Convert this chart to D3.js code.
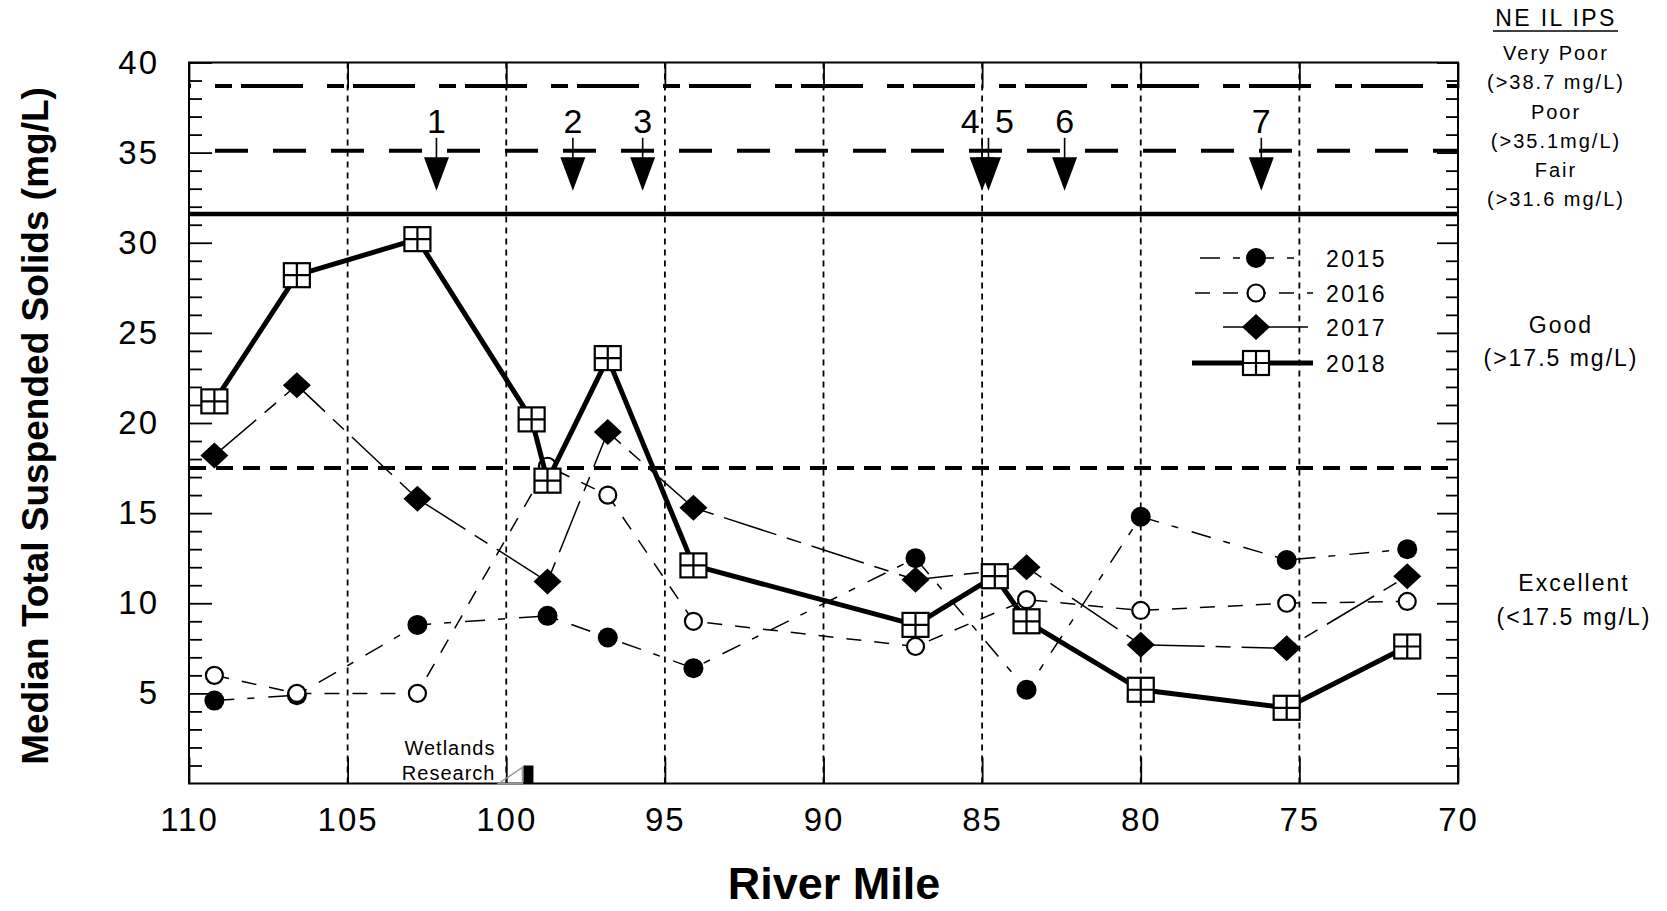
<!DOCTYPE html>
<html>
<head>
<meta charset="utf-8">
<script src="https://cdn.jsdelivr.net/npm/d3@7"></script>
<style>
  body { margin: 0; background: #fff; }
  text { font-family: "Liberation Sans", Arial, sans-serif; fill: #000; }
</style>
</head>
<body>
<div id="chart"></div>
<script>
// data
const years = ["2015", "2016", "2017", "2018"]
const miles2015 = [109.2, 106.6, 102.8, 98.7, 96.8, 94.1, 87.1, 83.6, 80.0, 75.4, 71.6]
const tss2015 = [4.6, 4.9, 8.8, 9.3, 8.1, 6.4, 12.5, 5.2, 14.8, 12.4, 13.0]
const miles2016 = [109.2, 106.6, 102.8, 98.7, 96.8, 94.1, 87.1, 83.6, 80.0, 75.4, 71.6]
const tss2016 = [6.0, 5.0, 5.0, 17.6, 16.0, 9.0, 7.6, 10.2, 9.6, 10.0, 10.1]
const miles2017 = [109.2, 106.6, 102.8, 98.7, 96.8, 94.1, 87.1, 83.6, 80.0, 75.4, 71.6]
const tss2017 = [18.2, 22.1, 15.8, 11.2, 19.5, 15.3, 11.3, 12.0, 7.7, 7.5, 11.5]
const miles2018 = [109.2, 106.6, 102.8, 99.2, 98.7, 96.8, 94.1, 87.1, 84.6, 83.6, 80.0, 75.4, 71.6]
const tss2018 = [21.2, 28.2, 30.2, 20.2, 16.8, 23.6, 12.1, 8.8, 11.5, 9.0, 5.2, 4.2, 7.6]

const xTicks = [110, 105, 100, 95, 90, 85, 80, 75, 70]
const yTicks = [5, 10, 15, 20, 25, 30, 35, 40]

const ipsLevels = [38.7, 35.1, 31.6, 17.5]
const ipsHeads = ["Very Poor", "Poor", "Fair"]
const ipsRanges = ["(>38.7 mg/L)", "(>35.1mg/L)", "(>31.6 mg/L)"]

const arrowLabels = ["1", "2", "3", "4", "5", "6", "7"]
const arrowMiles = [102.2, 97.9, 95.7, 85.0, 84.8, 82.4, 76.2]

const wetlandsMile = 99.3

// chart dimensions
const width = 1667
const height = 911
const margins = {top: 62.5, right: 209, bottom: 127.5, left: 189}
const plotRight = width - margins.right
const plotBottom = height - margins.bottom

const svg = d3.select("#chart")
  .append("svg")
  .attr("width", width)
  .attr("height", height)

// scales
const xScale = d3.scaleLinear()
  .domain([110, 70])
  .range([margins.left, plotRight])
const yScale = d3.scaleLinear()
  .domain([0, 40])
  .range([plotBottom, margins.top])

// vertical grid
svg.append("g").selectAll("line")
  .data(xTicks.slice(1, -1))
  .join("line")
    .attr("x1", d => xScale(d)).attr("x2", d => xScale(d))
    .attr("y1", margins.top).attr("y2", plotBottom)
    .attr("stroke", "#000")
    .attr("stroke-width", 1.8)
    .attr("stroke-dasharray", "6,5")

// axes: ticks point inward
const minorY = d3.range(1, 40).filter(d => d % 5 !== 0)

const leftAxis = svg.append("g")
  .attr("transform", `translate(${margins.left},0)`)
  .call(d3.axisLeft(yScale).tickValues(yTicks).tickSize(-23).tickPadding(30))
leftAxis.append("g")
  .call(d3.axisLeft(yScale).tickValues(minorY).tickSize(-13).tickFormat(""))

const rightAxis = svg.append("g")
  .attr("transform", `translate(${plotRight},0)`)
  .call(d3.axisRight(yScale).tickValues(yTicks).tickSize(-21).tickFormat(""))
rightAxis.append("g")
  .call(d3.axisRight(yScale).tickValues(minorY).tickSize(-12).tickFormat(""))

const bottomAxis = svg.append("g")
  .attr("transform", `translate(0,${plotBottom})`)
  .call(d3.axisBottom(xScale).tickValues(xTicks).tickSize(-26).tickPadding(24))
const topAxis = svg.append("g")
  .attr("transform", `translate(0,${margins.top})`)
  .call(d3.axisTop(xScale).tickValues(xTicks).tickSize(-26).tickFormat(""))

svg.selectAll(".domain").remove()
svg.selectAll(".tick line").attr("stroke", "#000").attr("stroke-width", 1.8)
svg.selectAll(".tick text")
  .attr("fill", "#000")
  .style("font-family", '"Liberation Sans", Arial, sans-serif')
  .style("font-size", "33px")
  .style("letter-spacing", "2px")

// frame
svg.append("rect")
  .attr("x", margins.left).attr("y", margins.top)
  .attr("width", plotRight - margins.left)
  .attr("height", plotBottom - margins.top)
  .attr("fill", "none")
  .attr("stroke", "#000")
  .attr("stroke-width", 2)

// NE IL IPS threshold lines
const ipsStyles = [
  {dash: "17,9,62,24", offset: 86, w: 4},
  {dash: "33,25", offset: 32, w: 4},
  {dash: null, offset: 0, w: 4.5},
  {dash: "17,10", offset: 0, w: 4}
]
svg.append("g").selectAll("line")
  .data(ipsLevels)
  .join("line")
    .attr("x1", margins.left).attr("x2", plotRight)
    .attr("y1", d => yScale(d)).attr("y2", d => yScale(d))
    .attr("stroke", "#000")
    .attr("stroke-width", (d, i) => ipsStyles[i].w)
    .attr("stroke-dasharray", (d, i) => ipsStyles[i].dash)
    .attr("stroke-dashoffset", (d, i) => ipsStyles[i].offset)

// site arrows
const arrowBase = yScale(35.1)
const arrows = svg.append("g")
arrowMiles.forEach((m, i) => {
  const ax = xScale(m)
  arrows.append("line")
    .attr("x1", ax).attr("x2", ax)
    .attr("y1", arrowBase - 13).attr("y2", arrowBase + 8)
    .attr("stroke", "#000").attr("stroke-width", 1.6)
  arrows.append("path")
    .attr("d", `M${ax - 12.5},${arrowBase + 6.5} L${ax + 12.5},${arrowBase + 6.5} L${ax},${arrowBase + 40} Z`)
    .attr("fill", "#000")
  // neighbours closer than a mile get their labels pushed apart
  let dx = 0
  if (i < arrowMiles.length - 1 && Math.abs(arrowMiles[i + 1] - m) < 1) dx = -12
  if (i > 0 && Math.abs(arrowMiles[i - 1] - m) < 1) dx = 16
  arrows.append("text")
    .attr("x", ax + dx).attr("y", arrowBase - 18)
    .attr("text-anchor", "middle")
    .style("font-size", "34px")
    .text(arrowLabels[i])
})

// series
const seriesMiles = [miles2015, miles2016, miles2017, miles2018]
const seriesValues = [tss2015, tss2016, tss2017, tss2018]
const seriesStyle = [
  {dash: "20,13,7,14", legendDash: "20,13,7,14", w: 1.5, marker: "dot"},
  {dash: "15,13", legendDash: "15,13", w: 1.5, marker: "ring"},
  {dash: "55,11,15,11", legendDash: null, w: 1.5, marker: "diamond"},
  {dash: null, legendDash: null, w: 5, marker: "box"}
]

function drawMarker(g, type, cx, cy) {
  if (type === "dot") {
    g.append("circle").attr("cx", cx).attr("cy", cy).attr("r", 10).attr("fill", "#000")
  } else if (type === "ring") {
    g.append("circle").attr("cx", cx).attr("cy", cy).attr("r", 8.5)
      .attr("fill", "#fff").attr("stroke", "#000").attr("stroke-width", 2.2)
  } else if (type === "diamond") {
    g.append("path")
      .attr("d", `M${cx - 14},${cy} L${cx},${cy - 13} L${cx + 14},${cy} L${cx},${cy + 13} Z`)
      .attr("fill", "#000")
  } else {
    g.append("rect").attr("x", cx - 13).attr("y", cy - 12).attr("width", 26).attr("height", 24)
      .attr("fill", "#fff").attr("stroke", "#000").attr("stroke-width", 2.2)
    g.append("path")
      .attr("d", `M${cx},${cy - 12} V${cy + 12} M${cx - 13},${cy} H${cx + 13}`)
      .attr("stroke", "#000").attr("stroke-width", 2.2)
  }
}

const lineGenerator = d3.line()
  .x(d => xScale(d[0]))
  .y(d => yScale(d[1]))

years.forEach((yr, i) => {
  const pts = seriesMiles[i].map((m, j) => [m, seriesValues[i][j]])
  const st = seriesStyle[i]
  const g = svg.append("g").attr("class", "series-" + yr)
  g.append("path")
    .datum(pts)
    .attr("d", lineGenerator)
    .attr("fill", "none")
    .attr("stroke", "#000")
    .attr("stroke-width", st.w)
    .attr("stroke-linejoin", "round")
    .attr("stroke-dasharray", st.dash)
  pts.forEach(p => drawMarker(g, st.marker, xScale(p[0]), yScale(p[1])))
})

// legend
const legend = svg.append("g")
const legendRows = [258, 293, 327, 363]
const legendSpans = [[1200, 1300], [1195, 1313], [1223, 1308], [1192, 1313]]
years.forEach((yr, i) => {
  const st = seriesStyle[i]
  legend.append("line")
    .attr("x1", legendSpans[i][0]).attr("x2", legendSpans[i][1])
    .attr("y1", legendRows[i]).attr("y2", legendRows[i])
    .attr("stroke", "#000")
    .attr("stroke-width", st.w)
    .attr("stroke-dasharray", st.legendDash)
  drawMarker(legend, st.marker, 1256, legendRows[i])
  legend.append("text")
    .attr("x", 1326).attr("y", legendRows[i] + 8.5)
    .style("font-size", "23px")
    .style("letter-spacing", "2.5px")
    .text(yr)
})

// Wetlands Research marker
const wx = xScale(wetlandsMile)
svg.append("path")
  .attr("d", `M${wx - 30},${plotBottom} L${wx - 6},${plotBottom - 16} L${wx - 6},${plotBottom} Z`)
  .attr("fill", "none").attr("stroke", "#999").attr("stroke-width", 1.5)
svg.append("rect")
  .attr("x", wx - 5).attr("y", plotBottom - 18)
  .attr("width", 10).attr("height", 18)
  .attr("fill", "#000")
svg.append("text")
  .attr("x", wx - 33).attr("y", plotBottom - 29)
  .attr("text-anchor", "end")
  .style("font-size", "20px").style("letter-spacing", "1px")
  .text("Wetlands")
svg.append("text")
  .attr("x", wx - 33).attr("y", plotBottom - 4)
  .attr("text-anchor", "end")
  .style("font-size", "20px").style("letter-spacing", "1px")
  .text("Research")

// right-hand IPS labels
const side = svg.append("g").attr("text-anchor", "middle")
side.append("text")
  .attr("x", 1556).attr("y", 26)
  .style("font-size", "23px").style("letter-spacing", "2.4px")
  .text("NE IL IPS")
side.append("line")
  .attr("x1", 1493).attr("x2", 1618).attr("y1", 31).attr("y2", 31)
  .attr("stroke", "#000").attr("stroke-width", 1.5)
ipsHeads.forEach((h, i) => {
  side.append("text")
    .attr("x", 1556).attr("y", 60 + i * 58.5)
    .style("font-size", "20px").style("letter-spacing", "2px")
    .text(h)
  side.append("text")
    .attr("x", 1556).attr("y", 89 + i * 58.5)
    .style("font-size", "20px").style("letter-spacing", "2px")
    .text(ipsRanges[i])
})
side.append("text").attr("x", 1561).attr("y", 333)
  .style("font-size", "23px").style("letter-spacing", "2px").text("Good")
side.append("text").attr("x", 1561).attr("y", 366)
  .style("font-size", "23px").style("letter-spacing", "2px").text("(>17.5 mg/L)")
side.append("text").attr("x", 1574).attr("y", 591)
  .style("font-size", "23px").style("letter-spacing", "2px").text("Excellent")
side.append("text").attr("x", 1574).attr("y", 625)
  .style("font-size", "23px").style("letter-spacing", "2px").text("(<17.5 mg/L)")

// axis titles
svg.append("text")
  .attr("x", 834).attr("y", 899)
  .attr("text-anchor", "middle")
  .style("font-size", "45px").style("font-weight", "bold")
  .text("River Mile")
svg.append("text")
  .attr("transform", "translate(35,426) rotate(-90)")
  .attr("dy", "0.36em")
  .attr("text-anchor", "middle")
  .style("font-size", "37px").style("font-weight", "bold")
  .text("Median Total Suspended Solids (mg/L)")
</script>
</body>
</html>
